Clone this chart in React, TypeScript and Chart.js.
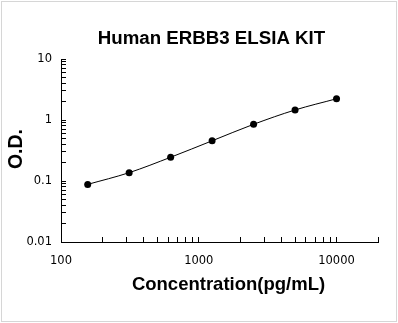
import React, { useEffect, useRef } from "react";
import { Chart, registerables } from "chart.js";

Chart.register(...registerables);

const titleText = "Human ERBB3 ELSIA KIT";
const xTitleText = "Concentration(pg/mL)";
const yTitleText = "O.D.";

const concentrations = [156.25, 312.5, 625, 1250, 2500, 5000, 10000];
const odValues = [0.088, 0.137, 0.245, 0.456, 0.85, 1.46, 2.23];

const xMin = 100;
const xMax = 20000;
const yMin = 0.01;
const yMax = 10;
const xTickLabels = [100, 1000, 10000];
const yTickLabels = [0.01, 0.1, 1, 10];

function logTicks(min: number, max: number) {
  const out: number[] = [];
  let d = Math.pow(10, Math.floor(Math.log10(min)));
  while (d <= max) {
    for (let m = 1; m <= 9; m++) {
      const v = Number((m * d).toPrecision(6));
      if (v >= min && v <= max) out.push(v);
    }
    d *= 10;
  }
  if (out[out.length - 1] !== max) out.push(max);
  return out;
}

const decorPlugin = {
  id: "decor",
  beforeDraw(chart: any) {
    const ctx = chart.ctx;
    ctx.save();
    ctx.fillStyle = "#ffffff";
    ctx.fillRect(0, 0, chart.width, chart.height);
    ctx.strokeStyle = "#d6d6d6";
    ctx.lineWidth = 1;
    ctx.strokeRect(1.5, 1.5, 395, 320);
    ctx.restore();
  },
  afterDraw(chart: any) {
    const ctx = chart.ctx;
    ctx.save();
    ctx.fillStyle = "#000000";
    ctx.textAlign = "center";
    ctx.textBaseline = "middle";
    ctx.font = "bold 18.7px 'Liberation Sans', Arial, sans-serif";
    ctx.fillText(titleText, 211.5, 38.5);
    ctx.font = "bold 18.5px 'Liberation Sans', Arial, sans-serif";
    ctx.fillText(xTitleText, 228.5, 284.5);
    ctx.translate(17, 149);
    ctx.rotate(-Math.PI / 2);
    ctx.font = "bold 19.5px 'Liberation Sans', Arial, sans-serif";
    ctx.fillText(yTitleText, 0, 0);
    ctx.restore();
  },
};

export default function App() {
  const ref = useRef<HTMLCanvasElement | null>(null);
  useEffect(() => {
    if (!ref.current) return;
    const tickFont = { family: "'DejaVu Sans', Verdana, sans-serif", size: 11.5 };
    const chart = new Chart(ref.current, {
      type: "scatter",
      data: {
        datasets: [
          {
            data: concentrations.map((c, i) => ({ x: c, y: odValues[i] })),
            showLine: true,
            borderColor: "#000000",
            borderWidth: 1,
            backgroundColor: "#000000",
            pointRadius: 3.5,
            pointBorderWidth: 0,
            cubicInterpolationMode: "monotone",
          } as any,
        ],
      },
      options: {
        animation: false,
        responsive: false,
        events: [],
        layout: { padding: { top: 59, right: 20, bottom: 0, left: 0 } },
        plugins: {
          legend: { display: false },
          title: { display: false },
          tooltip: { enabled: false },
        },
        scales: {
          x: {
            type: "logarithmic",
            min: xMin,
            max: xMax,
            afterBuildTicks: (s: any) => {
              s.ticks = logTicks(xMin, xMax).map((v) => ({ value: v }));
            },
            afterFit: (s: any) => {
              s.height = 81;
            },
            ticks: {
              autoSkip: false,
              maxRotation: 0,
              padding: 17,
              color: "#000000",
              font: tickFont,
              callback: (v: any) => (xTickLabels.includes(Number(v)) ? String(v) : ""),
            },
            grid: {
              display: true,
              drawOnChartArea: false,
              drawTicks: true,
              tickLength: -5,
              tickColor: "#000000",
              lineWidth: 1,
            },
            border: { display: true, color: "#000000", width: 1 },
          },
          y: {
            type: "logarithmic",
            min: yMin,
            max: yMax,
            afterBuildTicks: (s: any) => {
              s.ticks = logTicks(yMin, yMax).map((v) => ({ value: v }));
            },
            afterFit: (s: any) => {
              s.width = 61;
            },
            ticks: {
              autoSkip: false,
              padding: 14,
              color: "#000000",
              font: tickFont,
              callback: (v: any) => (yTickLabels.includes(Number(v)) ? String(v) : ""),
            },
            grid: {
              display: true,
              drawOnChartArea: false,
              drawTicks: true,
              tickLength: -5,
              tickColor: "#000000",
              lineWidth: 1,
            },
            border: { display: true, color: "#000000", width: 1 },
          },
        },
      } as any,
      plugins: [decorPlugin],
    });
    return () => chart.destroy();
  }, []);
  return (
    <div style={{ position: "fixed", left: 0, top: 0, width: 398, height: 323 }}>
      <canvas ref={ref} width={398} height={323} style={{ display: "block" }} />
    </div>
  );
}
